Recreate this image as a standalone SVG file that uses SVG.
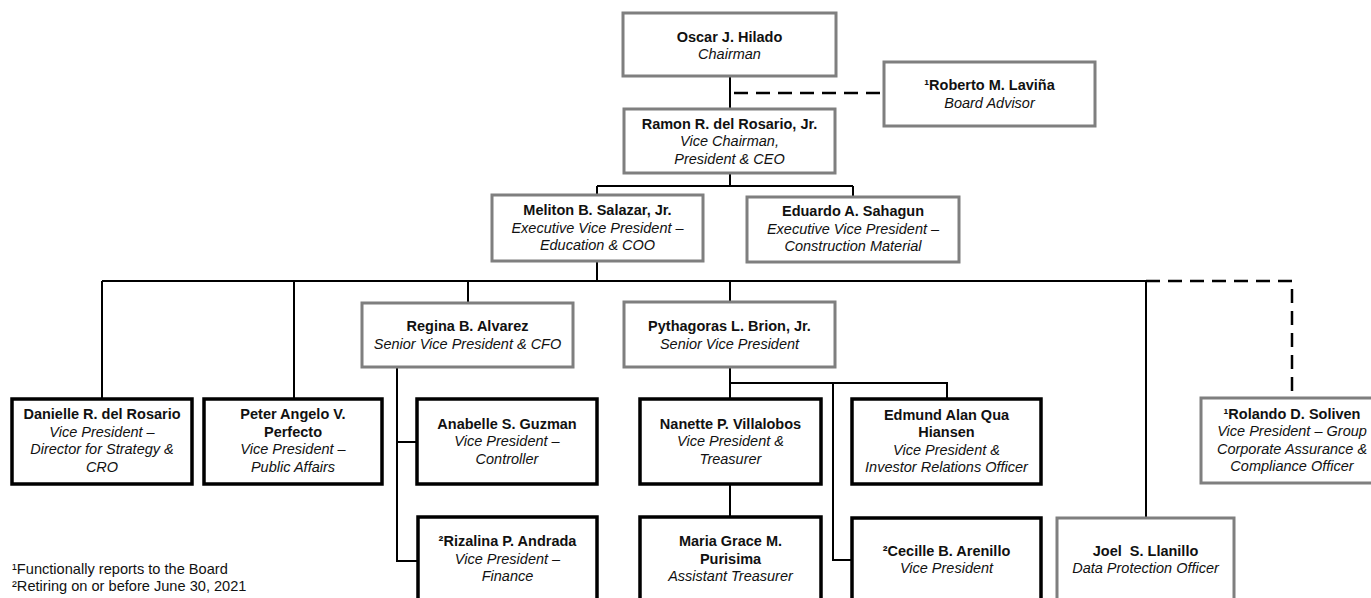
<svg xmlns="http://www.w3.org/2000/svg" width="1371" height="598" viewBox="0 0 1371 598">
<style>
.gb{fill:#fff;stroke:#7f7f7f;stroke-width:3}
.bb{fill:#fff;stroke:#000;stroke-width:3.5}
text{font-family:"Liberation Sans",Arial,Helvetica,sans-serif;font-size:14.5px;fill:#111;text-anchor:middle}
.n{font-weight:bold}
.t{font-style:italic}
.fn{text-anchor:start;font-size:14.6px}
.c{fill:none;stroke:#000;stroke-width:2}
.d{fill:none;stroke:#000;stroke-width:2.5;stroke-dasharray:14 8}
</style>
<rect width="1371" height="598" fill="#fff"/>
<g id="connectors">
<path class="c" d="M730 76V109"/>
<path class="d" d="M734 93H884"/>
<path class="c" d="M730 173V186M597 186H853M597 186V195M853 186V197"/>
<path class="c" d="M597 261V281M102 281H1146M102 281V399M294 281V399M468 281V303M730 281V302M1146 281V518"/>
<path class="d" d="M1146 281H1292V398"/>
<path class="c" d="M397 367V561H418M397 442H417"/>
<path class="c" d="M730 367V399M730 383H947V399M833 383V560H852M730 484V517"/>
</g>
<g id="oscar"><rect class="gb" x="623" y="13" width="213" height="63"/><text class="n" x="729.5" y="41.5">Oscar J. Hilado</text><text class="t" x="729.5" y="59">Chairman</text></g>
<g id="roberto"><rect class="gb" x="884" y="62" width="211" height="64"/><text class="n" x="989.5" y="90">¹Roberto M. Laviña</text><text class="t" x="989.5" y="107.5">Board Advisor</text></g>
<g id="ramon"><rect class="gb" x="624" y="109" width="211" height="64"/><text class="n" x="729.5" y="128.5">Ramon R. del Rosario, Jr.</text><text class="t" x="729.5" y="146">Vice Chairman,</text><text class="t" x="729.5" y="163.5">President &amp; CEO</text></g>
<g id="meliton"><rect class="gb" x="492" y="195" width="211" height="66"/><text class="n" x="597.5" y="215">Meliton B. Salazar, Jr.</text><text class="t" x="597.5" y="232.5">Executive Vice President –</text><text class="t" x="597.5" y="250">Education &amp; COO</text></g>
<g id="eduardo"><rect class="gb" x="747" y="197" width="212" height="65"/><text class="n" x="853" y="216">Eduardo A. Sahagun</text><text class="t" x="853" y="233.5">Executive Vice President –</text><text class="t" x="853" y="251">Construction Material</text></g>
<g id="regina"><rect class="gb" x="362" y="303" width="211" height="64"/><text class="n" x="467.5" y="331">Regina B. Alvarez</text><text class="t" x="467.5" y="348.5">Senior Vice President &amp; CFO</text></g>
<g id="pythagoras"><rect class="gb" x="624" y="302" width="211" height="65"/><text class="n" x="729.5" y="331">Pythagoras L. Brion, Jr.</text><text class="t" x="729.5" y="348.5">Senior Vice President</text></g>
<g id="danielle"><rect class="bb" x="12" y="399" width="180" height="85"/><text class="n" x="102" y="419">Danielle R. del Rosario</text><text class="t" x="102" y="436.5">Vice President –</text><text class="t" x="102" y="454">Director for Strategy &amp;</text><text class="t" x="102" y="471.5">CRO</text></g>
<g id="peter"><rect class="bb" x="204" y="399" width="178" height="85"/><text class="n" x="293" y="419">Peter Angelo V.</text><text class="n" x="293" y="436.5">Perfecto</text><text class="t" x="293" y="454">Vice President –</text><text class="t" x="293" y="471.5">Public Affairs</text></g>
<g id="anabelle"><rect class="bb" x="417" y="399" width="180" height="85"/><text class="n" x="507" y="428.5">Anabelle S. Guzman</text><text class="t" x="507" y="446">Vice President –</text><text class="t" x="507" y="463.5">Controller</text></g>
<g id="rizalina"><rect class="bb" x="418" y="517" width="179" height="85"/><text class="n" x="507.5" y="546">²Rizalina P. Andrada</text><text class="t" x="507.5" y="563.5">Vice President –</text><text class="t" x="507.5" y="581">Finance</text></g>
<g id="nanette"><rect class="bb" x="640" y="399" width="181" height="85"/><text class="n" x="730.5" y="428.5">Nanette P. Villalobos</text><text class="t" x="730.5" y="446">Vice President &amp;</text><text class="t" x="730.5" y="463.5">Treasurer</text></g>
<g id="maria"><rect class="bb" x="640" y="517" width="181" height="85"/><text class="n" x="730.5" y="546">Maria Grace M.</text><text class="n" x="730.5" y="563.5">Purisima</text><text class="t" x="730.5" y="581">Assistant Treasurer</text></g>
<g id="edmund"><rect class="bb" x="852" y="399" width="189" height="85"/><text class="n" x="946.5" y="419.5">Edmund Alan Qua</text><text class="n" x="946.5" y="437">Hiansen</text><text class="t" x="946.5" y="454.5">Vice President &amp;</text><text class="t" x="946.5" y="472">Investor Relations Officer</text></g>
<g id="cecille"><rect class="bb" x="852" y="518" width="189" height="84"/><text class="n" x="946.5" y="555.5">²Cecille B. Arenillo</text><text class="t" x="946.5" y="573">Vice President</text></g>
<g id="joel"><rect class="gb" x="1057" y="518" width="177" height="84"/><text class="n" x="1145.5" y="555.5">Joel&#160; S. Llanillo</text><text class="t" x="1145.5" y="573">Data Protection Officer</text></g>
<g id="rolando"><rect class="gb" x="1201" y="398" width="182" height="85"/><text class="n" x="1292" y="418.5">¹Rolando D. Soliven</text><text class="t" x="1292" y="436">Vice President – Group</text><text class="t" x="1292" y="453.5">Corporate Assurance &amp;</text><text class="t" x="1292" y="471">Compliance Officer</text></g>
<g id="footnotes"><text class="fn" x="12" y="574">¹Functionally reports to the Board</text><text class="fn" x="12" y="591">²Retiring on or before June 30, 2021</text></g>
</svg>
